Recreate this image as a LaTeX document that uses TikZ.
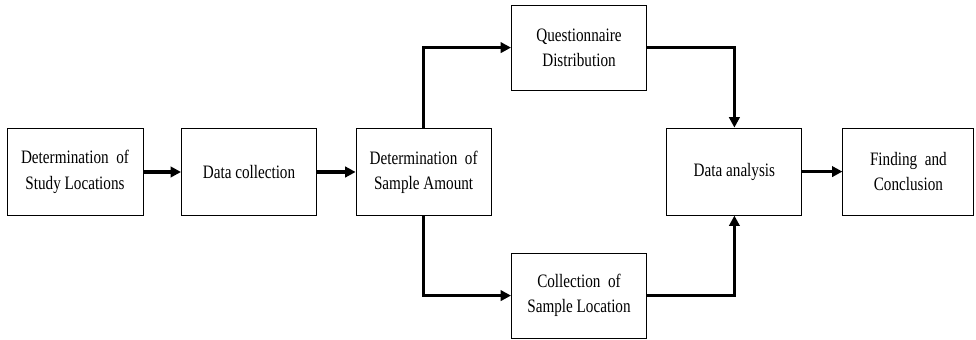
\documentclass[tikz,border=0pt]{standalone}
\usepackage{fontspec}
\setmainfont{Liberation Serif}[FakeStretch=0.8]
\usetikzlibrary{arrows.meta}
\begin{document}
\begin{tikzpicture}[box/.style={draw, shape=rectangle, line width=0.7pt, minimum width=3.375cm, minimum height=2.175cm, align=center, inner sep=0pt, font=\fontsize{13.5}{18}\selectfont},
  flow/.style={line width=2.2pt, -{Triangle[length=2.6mm,width=2.6mm]}}]
\useasboundingbox (0,0) rectangle (24.4,8.5);
\draw (1.875, 4.2) node[box, minimum width=3.4cm] (a) {Determination\ \ of\\Study Locations};
\draw (6.225, 4.2) node[box] (b) {Data collection};
\draw (10.59, 4.2) node[box] (c) {Determination\ \ of\\Sample Amount};
\draw (14.475, 7.31) node[box, minimum height=2.125cm] (d) {Questionnaire\\Distribution};
\draw (14.475, 1.11) node[box, minimum height=2.125cm] (e) {Collection\ \ of\\Sample Location};
\draw (18.36, 4.21) node[box] (f) {Data analysis};
\draw (22.71, 4.21) node[box, minimum width=3.275cm] (g) {Finding\ \ and\\Conclusion};
\draw[flow] (a) -- (b);
\draw[flow] (b) -- (c);
\draw[flow] (c.north) |- (d.west);
\draw[flow] (c.south) |- (e.west);
\draw[flow] (d.east) -| (f.north);
\draw[flow] (e.east) -| (f.south);
\draw[flow] (f) -- (g);
\end{tikzpicture}
\end{document}
